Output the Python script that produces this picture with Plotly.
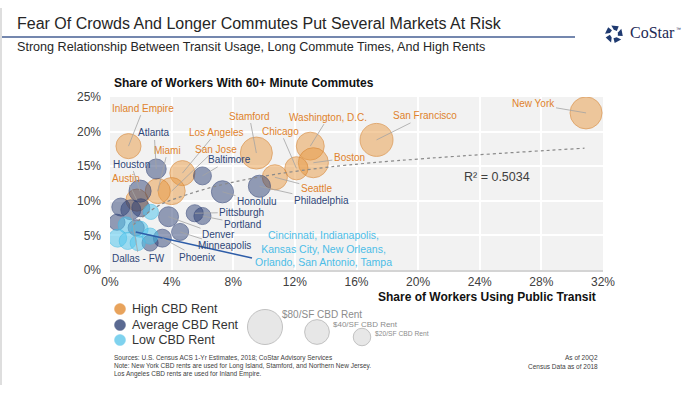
import math
import plotly.graph_objects as go

# ---------------- data ----------------
# High CBD rent markets
high_names = ["New York", "San Francisco", "Washington, D.C.", "Boston", "Chicago", "Seattle",
              "Stamford", "Los Angeles", "Inland Empire", "San Jose", "Miami", "Austin"]
high_transit = [30.9, 17.3, 13.0, 13.2, 12.1, 10.7, 9.5, 4.7, 1.2, 4.0, 3.1, 1.75]   # % using public transit
high_commute = [22.7, 18.8, 17.9, 15.5, 14.7, 13.4, 16.9, 14.0, 17.9, 11.4, 11.4, 10.1]  # % with 60+ min commutes
high_rent = [67, 71, 51, 59, 35, 41, 67, 41, 41, 48, 41, 32]  # $/SF CBD rent

# Average CBD rent markets ("" = unlabeled in the reference)
avg_names = ["Atlanta", "Baltimore", "Houston", "Honolulu", "Philadelphia", "Pittsburgh", "Portland",
             "Denver", "Minneapolis", "Phoenix", "Dallas - FW", "", "", "", "", ""]
avg_transit = [3.0, 6.0, 1.95, 7.3, 9.7, 5.5, 6.0, 3.8, 4.55, 3.4, 1.35, 0.7, 2.0, 0.45, 2.6, 1.7]
avg_commute = [14.6, 13.6, 11.4, 11.3, 12.1, 8.2, 7.8, 7.7, 5.5, 4.6, 8.7, 9.1, 9.0, 6.9, 3.9, 6.1]
avg_rent = [26, 21, 32, 32, 32, 19, 19, 26, 19, 21, 26, 21, 21, 17, 17, 17]

# Low CBD rent markets (grouped label)
low_label = "Cincinnati, Indianapolis,<br>Kansas City, New Orleans,<br>Orlando, San Antonio, Tampa"
low_transit = [2.65, 1.05, 1.95, 0.5, 1.15, 2.6, 1.8]
low_commute = [8.4, 6.5, 5.9, 4.6, 4.2, 4.9, 3.9]
low_rent = [15, 17, 17, 21, 19, 17, 15]

# Trend line (logarithmic fit drawn in the reference)
trend_x = [1.5, 3.0, 4.35, 7.8, 14.3, 30.8]
trend_y = [6.5, 9.1, 10.4, 12.6, 14.9, 17.6]
r_squared = "R² = 0.5034"

# Bubble size legend
size_legend_rent = [80, 40, 20]
size_legend_text = ["$80/SF CBD Rent", "$40/SF CBD Rent", "$20/SF CBD Rent"]

x_ticks = [0, 4, 8, 12, 16, 20, 24, 28, 32]
y_ticks = [0, 5, 10, 15, 20, 25]

# ---------------- layout geometry (pixels) ----------------
W, H = 700, 394
PX0, PX1, PY0, PY1 = 110, 603, 97, 270   # plot area left/right/top/bottom
XMAX, YMAX = 32, 25


def paper(px, py):
    return px / W, (H - py) / H


def data(px, py):
    return (px - PX0) / (PX1 - PX0) * XMAX, (PY1 - py) / (PY1 - PY0) * YMAX


# $80 -> 35 px diameter (area sizing)
SIZEREF = 2 * 80 / (35 ** 2)

FONT = "Liberation Sans, Arial, sans-serif"
ORANGE_FILL = "rgba(232,150,60,0.68)"
ORANGE_LINE = "rgba(214,128,42,0.85)"
ORANGE_TXT = "#E0822C"
NAVY_FILL = "rgba(38,58,112,0.68)"
NAVY_LINE = "rgba(38,58,112,0.8)"
NAVY_TXT = "#2F4677"
LB_FILL = "rgba(80,198,238,0.75)"
LB_LINE = "rgba(70,188,228,0.9)"
LB_TXT = "#4CBDE7"

fig = go.Figure()


def bubbles(x, y, s, fill, line):
    fig.add_trace(go.Scatter(
        x=x, y=y, mode="markers", hoverinfo="skip",
        marker=dict(size=s, sizemode="area", sizeref=SIZEREF, color=fill,
                    line=dict(color=line, width=1))))


bubbles(high_transit, high_commute, high_rent, ORANGE_FILL, ORANGE_LINE)
bubbles(avg_transit, avg_commute, avg_rent, NAVY_FILL, NAVY_LINE)
bubbles(low_transit, low_commute, low_rent, LB_FILL, LB_LINE)

fig.add_trace(go.Scatter(x=trend_x, y=trend_y, mode="lines", hoverinfo="skip",
                         line=dict(color="#8a8a8a", width=1.2, dash="dot", shape="spline")))

# size legend bubbles (same size scale) on a hidden pixel-mapped subplot below the chart
LX0, LX1, LY0, LY1 = 240, 420, 300, 352
fig.add_trace(go.Scatter(
    x=[265, 317, 362], y=[327, 332, 337], xaxis="x2", yaxis="y2", mode="markers", hoverinfo="skip",
    marker=dict(size=size_legend_rent, sizemode="area", sizeref=SIZEREF, color="#dedede",
                line=dict(color="#a8a8a8", width=1))))

# ---------------- annotations ----------------
offsets = {
    "New York": (-53, -9), "San Francisco": (48, -24), "Washington, D.C.": (18, -29),
    "Boston": (36, -5), "Chicago": (-16, -37), "Seattle": (42, 11), "Stamford": (-7, -37),
    "Los Angeles": (34, -41), "San Jose": (44, -42), "Miami": (10, -41),
    "Inland Empire": (15, -38), "Austin": (-11, -22),
    "Atlanta": (-2, -36), "Houston": (-9, -27), "Baltimore": (27, -16), "Honolulu": (34, 10),
    "Philadelphia": (62, 14), "Pittsburgh": (47, -1), "Portland": (40, 8), "Denver": (50, 18),
    "Minneapolis": (44, 14), "Phoenix": (35, 19), "Dallas - FW": (8, 49),
}

ann = []


def label(name, x, y, color):
    ax, ay = offsets[name]
    ann.append(dict(x=x, y=y, xref="x", yref="y", text=name, showarrow=True, arrowhead=0,
                    arrowwidth=0.8, arrowcolor="#a3a3a3", ax=ax, ay=ay, standoff=0,
                    font=dict(family=FONT, size=10, color=color)))


for n, x, y in zip(high_names, high_transit, high_commute):
    label(n, x, y, ORANGE_TXT)
for n, x, y in zip(avg_names, avg_transit, avg_commute):
    if n:
        label(n, x, y, NAVY_TXT)

lx, ly = data(323, 248)
ann.append(dict(x=lx, y=ly, xref="x", yref="y", text=low_label, showarrow=False, align="center",
                font=dict(family=FONT, size=10.5, color=LB_TXT)))

rx, ry = data(497, 177)
ann.append(dict(x=rx, y=ry, xref="x", yref="y", text=r_squared, showarrow=False,
                font=dict(family=FONT, size=12.5, color="#404040")))


def ptext(px, py, text, size, color, anchor="left", bold=False, family=FONT):
    x, y = paper(px, py)
    ann.append(dict(x=x, y=y, xref="paper", yref="paper", text=f"<b>{text}</b>" if bold else text,
                    showarrow=False, xanchor=anchor, yanchor="middle",
                    font=dict(family=family, size=size, color=color)))


ptext(15, 23, "Fear Of Crowds And Longer Commutes Put Several Markets At Risk", 16, "#262626")
ptext(15, 47, "Strong Relationship Between Transit Usage, Long Commute Times, And High Rents", 12.6, "#262626")
ptext(244, 83, "Share of Workers With 60+ Minute Commutes", 12, "#111111", anchor="center", bold=True)
ptext(598, 297, "Share of Workers Using Public Transit", 12, "#111111", anchor="right", bold=True)

legend_items = [("High CBD Rent", "#E8A35C", 309), ("Average CBD Rent", "#5B6A92", 325),
                ("Low CBD Rent", "#7FD2EE", 340)]
for t, c, py in legend_items:
    ptext(130, py, t, 12.5, "#333333")

ptext(280, 314, size_legend_text[0], 10, "#8c8c8c")
ptext(331, 324, size_legend_text[1], 8, "#8c8c8c")
ptext(373, 333, size_legend_text[2], 6.7, "#8c8c8c")

ptext(112, 358, "Sources: U.S. Census ACS 1-Yr Estimates, 2018; CoStar Advisory Services", 6.5, "#404040")
ptext(112, 366, "Note: New York CBD rents are used for Long Island, Stamford, and Northern New Jersey.", 6.5, "#404040")
ptext(112, 374, "Los Angeles CBD rents are used for Inland Empire.", 6.5, "#404040")
ptext(600, 358, "As of 20Q2", 6.5, "#404040", anchor="right")
ptext(600, 366, "Census Data as of 2018", 6.5, "#404040", anchor="right")

ptext(628, 33, "CoStar", 16, "#1d2a55", family="Liberation Serif, Times New Roman, serif")
ptext(674, 29, "™", 5, "#1d2a55")

# ---------------- shapes ----------------
shapes = []
# plot-area background (drawn as a shape so the hidden legend subplot stays white)
shapes.append(dict(type="rect", xref="x domain", yref="y domain", x0=0, x1=1, y0=0, y1=1,
                   fillcolor="#f2f2f2", line=dict(width=0), layer="below"))
x0, y0 = paper(2, 37)
x1, _ = paper(575, 37)
shapes.append(dict(type="line", xref="paper", yref="paper", x0=x0, x1=x1, y0=y0, y1=y0,
                   line=dict(color="#7487AE", width=2)))
vx, vy0 = paper(1, 8)
_, vy1 = paper(1, 385)
shapes.append(dict(type="line", xref="paper", yref="paper", x0=vx, x1=vx, y0=vy0, y1=vy1,
                   line=dict(color="#bdbdbd", width=1)))

# connector for the low-rent group label
cx = sum(low_transit) / len(low_transit)
cy = sum(low_commute) / len(low_commute)
tx, ty = data(252, 258)
shapes.append(dict(type="line", xref="x", yref="y", x0=cx, y0=cy, x1=tx, y1=ty,
                   line=dict(color="#2E5DA8", width=1.5)))

# colour legend dots
for t, c, py in legend_items:
    px_, py_ = paper(120, py)
    shapes.append(dict(type="circle", xref="paper", yref="paper", xsizemode="pixel", ysizemode="pixel",
                       xanchor=px_, yanchor=py_, x0=-5.5, x1=5.5, y0=-5.5, y1=5.5,
                       fillcolor=c, line=dict(color=c, width=0.5)))

# CoStar logo mark (ring of five wedges)
lcx, lcy = 614, 34
for k in range(5):
    a = math.radians(-90 + k * 72)
    pts = []
    for ang, r in [(a - 0.30, 9), (a + 0.55, 9), (a + 0.75, 4.2), (a - 0.05, 4.2)]:
        pts.append(paper(lcx + r * math.cos(ang), lcy + r * math.sin(ang)))
    path = "M " + " L ".join(f"{p[0]:.5f},{p[1]:.5f}" for p in pts) + " Z"
    shapes.append(dict(type="path", xref="paper", yref="paper", path=path,
                       fillcolor="#1f3a70", line=dict(width=0)))

fig.update_layout(
    width=W, height=H, autosize=False,
    margin=dict(l=0, r=0, t=0, b=0),
    paper_bgcolor="white", plot_bgcolor="rgba(0,0,0,0)",
    showlegend=False,
    font=dict(family=FONT, color="#404040"),
    xaxis=dict(domain=[PX0 / W, PX1 / W], range=[0, XMAX], tickvals=x_ticks,
               ticktext=[f"{v}%" for v in x_ticks], anchor="y",
               showgrid=True, gridcolor="white", gridwidth=1.5, zeroline=False,
               showline=True, linecolor="#d4d4d4", linewidth=2, ticks="",
               tickfont=dict(size=12, color="#404040"), fixedrange=True, automargin=False),
    yaxis=dict(domain=[(H - PY1) / H, (H - PY0) / H], range=[0, YMAX], tickvals=y_ticks,
               ticktext=[f"{v}%" for v in y_ticks], anchor="x",
               showgrid=True, gridcolor="white", gridwidth=1.5, zeroline=False,
               showline=False, ticks="", ticklabelstandoff=8,
               tickfont=dict(size=12, color="#404040"), fixedrange=True, automargin=False),
    xaxis2=dict(domain=[LX0 / W, LX1 / W], range=[LX0, LX1], visible=False, anchor="y2",
                fixedrange=True),
    yaxis2=dict(domain=[(H - LY1) / H, (H - LY0) / H], range=[LY1, LY0], visible=False, anchor="x2",
                fixedrange=True),
    annotations=ann,
    shapes=shapes,
)

fig.write_html("out.html", config={"displayModeBar": False},
               post_script="document.body.style.margin='0';document.body.style.overflow='hidden';")
